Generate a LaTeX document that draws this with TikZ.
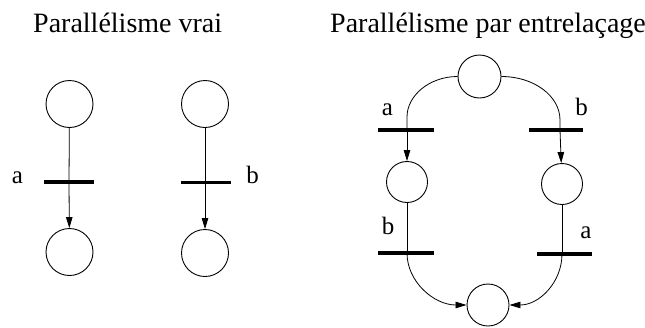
\documentclass[tikz,border=0pt]{standalone}
\usepackage{fontspec}
\setmainfont{Liberation Serif}
\usetikzlibrary{arrows.meta}
\tikzset{
  place/.style={circle,draw,line width=0.9pt,inner sep=0pt,minimum size=#1},
  trans/.style={fill=black,inner sep=0pt,minimum height=3.8pt,minimum width=#1},
  arc/.style={line width=0.8pt},
  tip/.style={arc,-{Triangle[length=11pt,width=6.5pt]}},
  lbl/.style={font=\fontsize{25}{25}\selectfont,anchor=base,inner sep=0pt},
  ttl/.style={font=\fontsize{28}{28}\selectfont,anchor=base west,inner sep=0pt}
}
\begin{document}
\begin{tikzpicture}[x=1pt,y=-1pt]
\useasboundingbox (0,0) rectangle (645,327);
% titles
\node[ttl] (t1) at (33,32) {Parallélisme vrai};
\node[ttl] (t2) at (330,32) {Parallélisme par entrelaçage};
% left part
\node[place=47pt] (l1) at (69.5,104) {};
\node[trans=50pt] (la) at (69,182) {};
\node[place=47pt] (l2) at (69.5,252) {};
\node[lbl] (lla) at (17.5,183) {a};
\node[place=47pt] (r1) at (205,104) {};
\node[trans=50pt] (lb) at (206,182.5) {};
\node[place=47pt] (r2) at (205,253) {};
\node[lbl] (llb) at (252.5,183) {b};
\draw[arc] (l1) -- (la.center);
\draw[tip] (la.center) -- (l2);
\draw[arc] (r1) -- ([xshift=-1pt]lb.center);
\draw[tip] ([xshift=-1pt]lb.center) -- (r2);
% right part
\node[place=43pt] (p0) at (479.5,76.5) {};
\node[trans=56pt] (ta1) at (406,130) {};
\node[trans=54pt] (tb1) at (556,130) {};
\node[place=41pt] (p1) at (407,182) {};
\node[place=41pt] (p2) at (562,184) {};
\node[trans=56pt] (tb2) at (406,253) {};
\node[trans=55pt] (ta2) at (564.5,254) {};
\node[place=42pt] (p3) at (488,305) {};
\node[lbl] (la1) at (387.5,115) {a};
\node[lbl] (lb1) at (581.5,115) {b};
\node[lbl] (lb2) at (388,234) {b};
\node[lbl] (la2) at (586,238) {a};
\draw[arc] (p0.west) .. controls +(-28,0) and +(0,-21.5) .. ([xshift=1pt,yshift=13pt]ta1.center) -- ([xshift=1pt]ta1.center);
\draw[tip] ([xshift=1pt]ta1.center) -- (p1);
\draw[arc] (p0.east) .. controls +(32.5,0) and +(0,-24) .. ([xshift=4pt,yshift=10pt]tb1.center) -- ([xshift=4pt]tb1.center);
\draw[tip] ([xshift=4pt]tb1.center) -- (p2);
\draw[arc] (p1) -- ([xshift=1pt]tb2.center);
\draw[arc] (p2) -- ([xshift=-2.5pt]ta2.center);
\draw[tip] ([xshift=1pt]tb2.center) .. controls +(0,28.7) and +(-32.6,0) .. (p3.west);
\draw[tip] ([xshift=-2.5pt]ta2.center) .. controls +(0,28) and +(30,0) .. (p3.east);
\end{tikzpicture}
\end{document}
